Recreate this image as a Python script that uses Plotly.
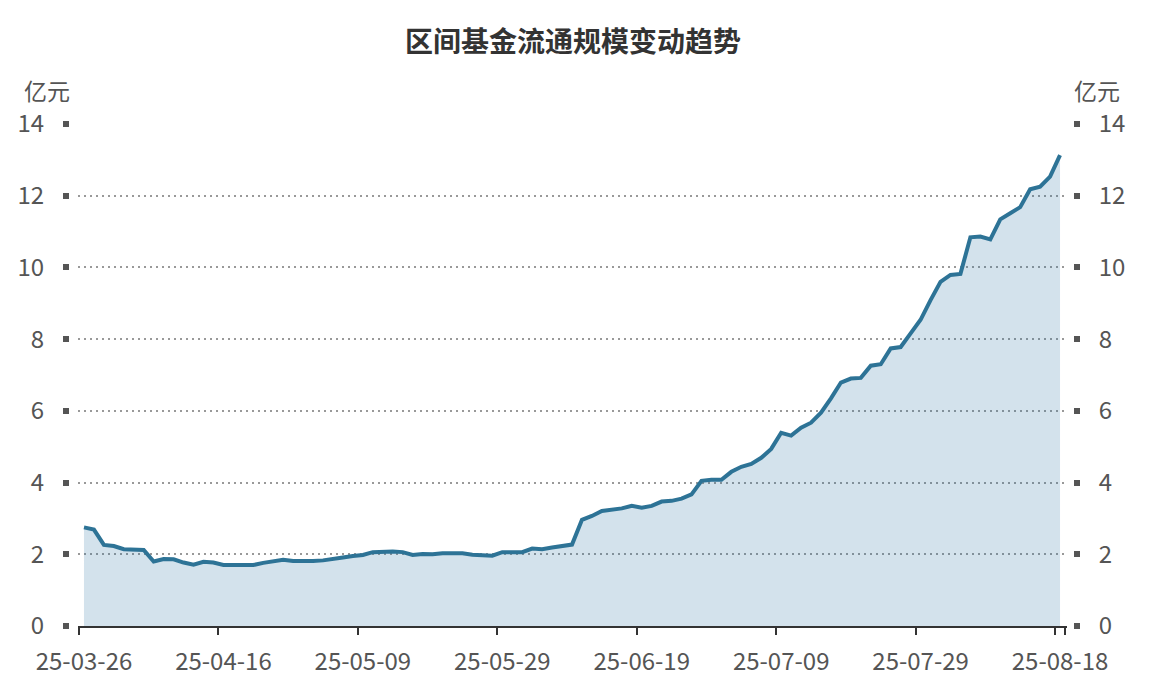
import plotly.graph_objects as go

# ---- data ----
dates = [
    "25-03-26", "25-03-27", "25-03-28", "25-03-31",
    "25-04-01", "25-04-02", "25-04-03", "25-04-07", "25-04-08", "25-04-09", "25-04-10", "25-04-11",
    "25-04-14", "25-04-15", "25-04-16", "25-04-17", "25-04-18", "25-04-21", "25-04-22", "25-04-23",
    "25-04-24", "25-04-25", "25-04-28", "25-04-29", "25-04-30",
    "25-05-06", "25-05-07", "25-05-08", "25-05-09", "25-05-12", "25-05-13", "25-05-14", "25-05-15",
    "25-05-16", "25-05-19", "25-05-20", "25-05-21", "25-05-22", "25-05-23", "25-05-26", "25-05-27",
    "25-05-28", "25-05-29", "25-05-30",
    "25-06-03", "25-06-04", "25-06-05", "25-06-06", "25-06-09", "25-06-10", "25-06-11", "25-06-12",
    "25-06-13", "25-06-16", "25-06-17", "25-06-18", "25-06-19", "25-06-20", "25-06-23", "25-06-24",
    "25-06-25", "25-06-26", "25-06-27", "25-06-30",
    "25-07-01", "25-07-02", "25-07-03", "25-07-04", "25-07-07", "25-07-08", "25-07-09", "25-07-10",
    "25-07-11", "25-07-14", "25-07-15", "25-07-16", "25-07-17", "25-07-18", "25-07-21", "25-07-22",
    "25-07-23", "25-07-24", "25-07-25", "25-07-28", "25-07-29", "25-07-30", "25-07-31",
    "25-08-01", "25-08-04", "25-08-05", "25-08-06", "25-08-07", "25-08-08", "25-08-11", "25-08-12",
    "25-08-13", "25-08-14", "25-08-15", "25-08-18",
]

scale = [
    2.75, 2.69, 2.26, 2.23, 2.14, 2.12, 2.12, 1.80, 1.87, 1.86,
    1.77, 1.71, 1.79, 1.77, 1.70, 1.70, 1.70, 1.70, 1.76, 1.80,
    1.85, 1.81, 1.80, 1.81, 1.83, 1.86, 1.91, 1.95, 1.98, 2.06,
    2.07, 2.08, 2.06, 1.98, 2.01, 2.00, 2.03, 2.02, 2.03, 1.99,
    1.98, 1.96, 2.06, 2.07, 2.06, 2.16, 2.14, 2.19, 2.23, 2.27,
    2.96, 3.07, 3.21, 3.25, 3.28, 3.35, 3.30, 3.35, 3.47, 3.49,
    3.55, 3.67, 4.05, 4.08, 4.08, 4.30, 4.44, 4.52, 4.69, 4.94,
    5.39, 5.31, 5.53, 5.67, 5.95, 6.35, 6.79, 6.90, 6.92, 7.26,
    7.30, 7.74, 7.78, 8.16, 8.54, 9.09, 9.60, 9.79, 9.82, 10.84,
    10.86, 10.78, 11.34, 11.51, 11.68, 12.18, 12.25, 12.53, 13.13,
]

tick_idx = [0, 14, 28, 42, 56, 70, 84, 98]
y_ticks = [0, 2, 4, 6, 8, 10, 12, 14]

title_text = "区间基金流通规模变动趋势"
unit_text = "亿元"

# ---- styles ----
FONT = "Noto Sans CJK SC, Noto Sans, sans-serif"
LINE_COLOR = "#2d7396"
FILL_COLOR = "rgba(35,110,160,0.2)"
TEXT_COLOR = "#555555"

x_idx = list(range(len(dates)))

fig = go.Figure()
fig.add_trace(go.Scatter(
    x=x_idx, y=scale, mode="lines",
    line=dict(color=LINE_COLOR, width=4),
    fill="tozeroy", fillcolor=FILL_COLOR,
    hoverinfo="x+y", showlegend=False,
))
# invisible twin so the right axis is drawn
fig.add_trace(go.Scatter(
    x=x_idx, y=scale, mode="lines", yaxis="y2",
    line=dict(width=0), opacity=0, hoverinfo="skip", showlegend=False,
))

# page has an 8px body margin; work in page pixels and convert
OFF = 8
W, H = 1154 - 2 * OFF, 684 - 2 * OFF
ml, mr, mt, mb = 40, 40, 90, 40
pw = W - ml - mr
ph = H - mt - mb

def px_x(p):
    return (p - OFF - ml) / pw

def px_y(p):
    return (H - mb - (p - OFF)) / ph

fig.update_layout(
    width=W, height=H,
    margin=dict(l=ml, r=mr, t=mt, b=mb, autoexpand=False),
    paper_bgcolor="white", plot_bgcolor="rgba(0,0,0,0)",
    font=dict(family=FONT, color=TEXT_COLOR, size=24),
    title=dict(
        text=f"<b>{title_text}</b>",
        x=px_x(573), xanchor="center", xref="paper",
        y=1 - (42 - OFF) / H, yanchor="middle",
        font=dict(family=FONT, size=28, color="#333333"),
    ),
    xaxis=dict(
        domain=[px_x(78), px_x(1067)],
        range=[-0.6, 98.7],
        automargin=False,
        showgrid=False, zeroline=False,
        showline=True, linecolor="#333333", linewidth=2,
        tickmode="array", tickvals=tick_idx,
        ticktext=[dates[i] for i in tick_idx],
        ticks="", ticklabelstandoff=13,
        tickfont=dict(size=24, color=TEXT_COLOR),
        minor=dict(
            tickmode="array",
            tickvals=[i - 0.5 for i in tick_idx] + [98.5],
            ticks="outside", ticklen=7, tickwidth=2, tickcolor="#333333",
            showgrid=False,
        ),
        anchor="y",
    ),
    yaxis=dict(
        domain=[px_y(626), px_y(124)],
        range=[0, 14],
        automargin=False,
        anchor="free", position=px_x(69),
        tickmode="array", tickvals=y_ticks,
        ticks="outside", ticklen=6, tickwidth=6, tickcolor="#555555",
        ticklabelstandoff=14,
        tickfont=dict(size=24, color=TEXT_COLOR),
        showline=False, zeroline=False,
        showgrid=True, gridcolor="#999999", gridwidth=1.6, griddash="2px,4px",
    ),
    yaxis2=dict(
        range=[0, 14],
        automargin=False,
        overlaying="y", side="right",
        anchor="free", position=px_x(1073),
        tickmode="array", tickvals=y_ticks,
        ticks="outside", ticklen=6, tickwidth=6, tickcolor="#555555",
        ticklabelstandoff=14,
        tickfont=dict(size=24, color=TEXT_COLOR),
        showline=False, zeroline=False, showgrid=False,
    ),
    annotations=[
        dict(text=unit_text, xref="paper", yref="paper",
             x=px_x(22), y=px_y(90), xanchor="left", yanchor="middle",
             showarrow=False, font=dict(size=23, color=TEXT_COLOR)),
        dict(text=unit_text, xref="paper", yref="paper",
             x=px_x(1122), y=px_y(90), xanchor="right", yanchor="middle",
             showarrow=False, font=dict(size=23, color=TEXT_COLOR)),
    ],
)

fig.write_html("out.html")
